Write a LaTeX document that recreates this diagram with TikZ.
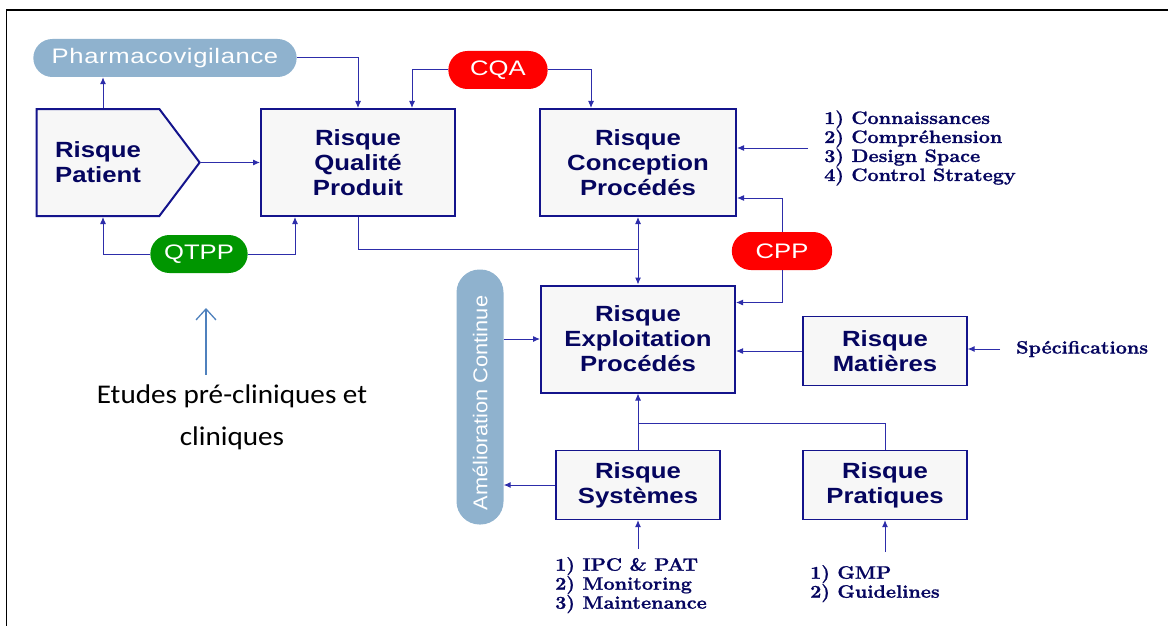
\documentclass[tikz,border=0pt]{standalone}
\usepackage{fontspec}
\usepackage{graphicx}
\usetikzlibrary{arrows.meta,shapes.misc,shapes.symbols,calc}
\newfontfamily\arialf{Liberation Sans}[FakeStretch=1.17]
\newfontfamily\pillf{Liberation Sans}[FakeStretch=1.22]
\newfontfamily\ameliof{Liberation Sans}[FakeStretch=1.09]
\newfontfamily\listf{Latin Modern Roman}[FakeStretch=1.1, BoldFeatures={FakeBold=1.2}]
\newfontfamily\calibf{Carlito}[FakeStretch=1.08]
\definecolor{navy}{RGB}{20,20,140}
\definecolor{navytxt}{RGB}{5,5,95}
\definecolor{lnblue}{RGB}{45,45,170}
\definecolor{boxfill}{RGB}{247,247,247}
\definecolor{pillblue}{RGB}{143,178,206}
\definecolor{pillred}{RGB}{255,0,0}
\definecolor{pillgreen}{RGB}{0,150,0}
\definecolor{steel}{RGB}{79,129,189}
\tikzset{
  box/.style={draw=navy, fill=boxfill, line width=2pt, minimum width=194pt, minimum height=107pt,
    align=center, text=navytxt, font=\arialf\bfseries\fontsize{22}{25}\selectfont},
  smallbox/.style={box, line width=1.2pt, minimum width=164pt, minimum height=69pt},
  pill/.style={rounded rectangle, minimum height=38pt, text=white, font=\pillf\fontsize{21}{24}\selectfont},
  conn/.style={draw=lnblue, line width=1pt},
  arr/.style={conn, -{Latex[length=7pt,width=6pt]}},
  liste/.style={align=left, text=navytxt, inner sep=0pt, font=\listf\bfseries\fontsize{18}{19}\selectfont}
}
\begin{document}
\begin{tikzpicture}[x=1pt,y=-1pt]
\useasboundingbox (0,0) rectangle (1168,626);
\draw[line width=1.5pt] (6.5,626) -- (6.5,10) -- (1168,10);

%Risques
\node[box, signal, signal to=east, signal pointer angle=106, minimum width=163pt] (patient) at (98,162.5) {Risque\\Patient};
\node[box] (qualite) at (358,162.5) {Risque\\Qualité\\Produit};
\node[box, minimum width=196pt] (conception) at (638,162.5) {Risque\\Conception\\Procédés};
\node[box] (exploit) at (638,339) {Risque\\Exploitation\\Procédés};
\node[smallbox] (matieres) at (885,351) {Risque\\Matières};
\node[smallbox] (systemes) at (638,485) {Risque\\Systèmes};
\node[smallbox] (pratiques) at (885,485) {Risque\\Pratiques};

%Pastilles
\node[pill, fill=pillblue, minimum width=270pt] (pharma) at (165,58) {\addfontfeatures{LetterSpace=3}Pharmacovigilance};
\node[pill, fill=pillred, minimum width=106pt] (cqa) at (498,70) {CQA};
\node[pill, fill=pillgreen, minimum width=104pt] (qtpp) at (199,254) {QTPP};
\node[pill, fill=pillred, minimum width=107pt] (cpp) at (782,251) {CPP};
\node[fill=pillblue, rounded corners=23pt, minimum width=47pt, minimum height=255pt, text=white,
  font=\ameliof\fontsize{20}{24}\selectfont] (amelio) at (480,397) {\rotatebox{90}{Amélioration Continue\hspace*{12pt}}};

%Listes
\node[liste, anchor=west] (clist) at (824,148) {1) Connaissances\\2) Compréhension\\3) Design Space\\4) Control Strategy};
\node[liste, anchor=west] (spec) at (1016,349) {Spécifications};
\node[liste, anchor=north west] (slist) at (555,557) {1) IPC \& PAT\\2) Monitoring\\3) Maintenance};
\node[liste, anchor=north west] (plist) at (810,565) {1) GMP\\2) Guidelines};
\node[align=center, font=\calibf\fontsize{27}{42}\selectfont] (etudes) at (232,417) {Etudes pré-cliniques et\\cliniques};

%Archi
\coordinate (pv) at (103,0);
\coordinate (qq) at (295,0);
\coordinate (cqal) at (412,0);
\coordinate (cqar) at (591,0);
\coordinate (jq) at (638,249);
\coordinate (jp) at (638,423);
\coordinate (etip) at (206,308);

\draw[arr] (patient.north -| pv) -- (pharma.south -| pv);
\draw[arr] (pharma.east) -| (qualite.north);
\draw[arr] (patient.east) -- (qualite.west);
\draw[arr] (qtpp.west) -| (patient.south -| pv);
\draw[arr] (qtpp.east) -| (qualite.south -| qq);
\draw[arr] (cqa.west) -| (qualite.north -| cqal);
\draw[arr] (cqa.east) -| (conception.north -| cqar);
\draw[arr] ($(clist.west)+(-16,0)$) -- (clist.west -| conception.east);
\draw[conn] (qualite.south) |- (jq);
\draw[conn, {Latex[length=7pt,width=6pt]}-{Latex[length=7pt,width=6pt]}] (conception.south) -- (exploit.north);
\draw[arr] (cpp.north) |- ($(conception.south east)+(0,-19)$);
\draw[arr] (cpp.south) |- ($(exploit.north east)+(0,18)$);
\draw[arr] (amelio.east |- exploit.west) -- (exploit.west);
\draw[arr] (matieres.west) -- (matieres.west -| exploit.east);
\draw[arr] ($(spec.west)+(-16,0)$) -- (spec.west -| matieres.east);
\draw[arr] (systemes.north) -- (exploit.south);
\draw[conn] (pratiques.north) |- (jp);
\draw[arr] (systemes.west) -- (systemes.west -| amelio.east);
\draw[arr] ($(slist.north -| systemes.south)+(0,-8)$) -- (systemes.south);
\draw[arr] ($(plist.north -| pratiques.south)+(0,-13)$) -- (pratiques.south);
\draw[steel, line width=1.3pt, -{Straight Barb[length=11pt,width=20pt]}] ($(etudes.north -| etip)+(0,-6)$) -- (etip);
\end{tikzpicture}
\end{document}
